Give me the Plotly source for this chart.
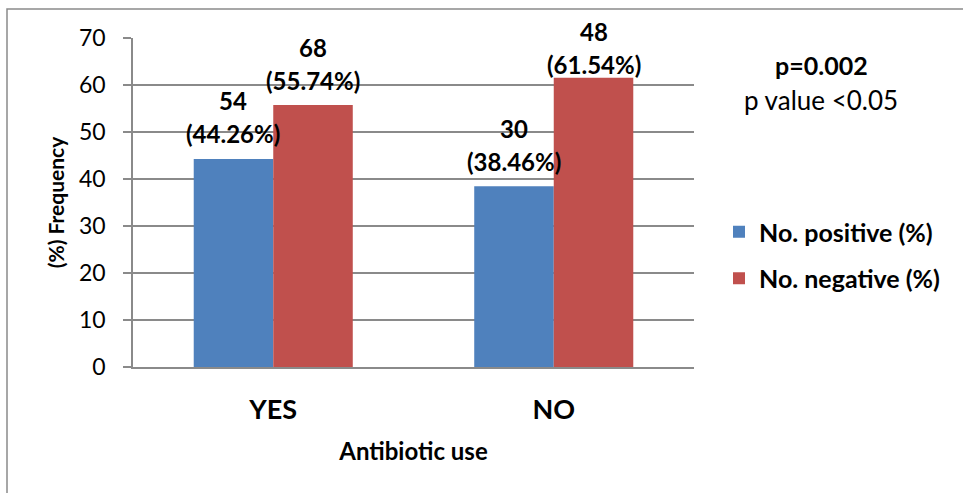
import plotly.graph_objects as go

categories = ["YES", "NO"]
series_names = ["No. positive (%)", "No. negative (%)"]
positive_pct = [44.26, 38.46]
negative_pct = [55.74, 61.54]
positive_n = [54, 30]
negative_n = [68, 48]
y_ticks = [0, 10, 20, 30, 40, 50, 60, 70]

BLUE = "#4F81BD"
RED = "#C0504D"
GRID = "#8A8A8A"
FONT = "Lato"

W, H = 963, 493
ML, MR, MT, MB = 133, 269, 38, 126
BARGAP = 0.433
Y_MAX = 70

fig = go.Figure()
fig.add_trace(go.Bar(x=categories, y=positive_pct, name=series_names[0],
                     marker=dict(color=BLUE, line=dict(width=0)), legendgroup="a"))
fig.add_trace(go.Bar(x=categories, y=negative_pct, name=series_names[1],
                     marker=dict(color=RED, line=dict(width=0)), legendgroup="b"))

plot_w = W - ML - MR
plot_h = H - MT - MB
bar_px = plot_w / len(categories) * (1 - BARGAP) / 2

annotations = []
for vals, counts, sign in [(positive_pct, positive_n, -1), (negative_pct, negative_n, 1)]:
    for c, v, n in zip(categories, vals, counts):
        # keep the label block inside the chart area (Excel-like fitting)
        top_px = MT + plot_h * (1 - v / Y_MAX)
        shift1 = min(58, top_px - 32)
        shift2 = shift1 - 34
        annotations.append(dict(x=c, y=v, xref="x", yref="y", text=f"<b>({v:.2f}%)</b>",
                                showarrow=False, xshift=sign * bar_px / 2, yshift=shift2 + 1,
                                xanchor="center", yanchor="middle",
                                font=dict(family=FONT, size=24, color="#000000")))
        annotations.append(dict(x=c, y=v, xref="x", yref="y", text=f"<b>{n}</b>",
                                showarrow=False, xshift=sign * bar_px / 2, yshift=shift1,
                                xanchor="center", yanchor="middle",
                                font=dict(family=FONT, size=24, color="#000000")))

annotations.append(dict(x=(821 - ML) / plot_w, y=(H - MB - 65) / plot_h, xref="paper", yref="paper",
                        text="<b>p=0.002</b>", showarrow=False, xanchor="center", yanchor="middle",
                        font=dict(family=FONT, size=25, color="#000000")))
annotations.append(dict(x=(821 - ML) / plot_w, y=(H - MB - 100) / plot_h, xref="paper", yref="paper",
                        text="p value <0.05", showarrow=False, xanchor="center", yanchor="middle",
                        font=dict(family=FONT, size=26, color="#000000")))

fig.update_layout(
    width=W, height=H,
    margin=dict(l=ML, r=MR, t=MT, b=MB, pad=0),
    paper_bgcolor="white", plot_bgcolor="white",
    barmode="group", bargap=BARGAP, bargroupgap=0,
    font=dict(family=FONT, color="#000000"),
    annotations=annotations,
    legend=dict(x=(719 - ML) / plot_w, y=(H - MB - 209) / plot_h, xanchor="left", yanchor="top",
                font=dict(family=FONT, size=25, color="#000000", weight="bold"), tracegroupgap=11,
                bgcolor="rgba(0,0,0,0)"),
    showlegend=True,
    shapes=[dict(type="rect", xref="paper", yref="paper",
                 x0=(7 - ML) / plot_w, x1=(990 - ML) / plot_w,
                 y0=(H - MB - 520) / plot_h, y1=(H - MB - 9) / plot_h,
                 line=dict(color=GRID, width=1.5), layer="below")],
)

fig.update_xaxes(
    type="category", categoryorder="array", categoryarray=categories,
    range=[-0.5, 1.5],
    showline=True, linecolor=GRID, linewidth=1.5, ticks="",
    tickfont=dict(family=FONT, size=27, color="#000000", weight="bold"),
    ticklabelstandoff=18,
    title=dict(text="<b>Antibiotic use</b>", font=dict(family=FONT, size=24, color="#000000"), standoff=19),
    showgrid=False, zeroline=False,
)
fig.update_yaxes(
    range=[0, Y_MAX], tickvals=y_ticks, ticktext=[str(t) for t in y_ticks],
    showline=True, linecolor=GRID, linewidth=1.5,
    ticks="outside", ticklen=8, tickcolor=GRID, tickwidth=1.5,
    tickfont=dict(family=FONT, size=23, color="#000000"),
    ticklabelstandoff=13,
    showgrid=True, gridcolor=GRID, gridwidth=1.5, zeroline=False,
    title=dict(text="<b>(%) Frequency</b>", font=dict(family=FONT, size=21, color="#000000"), standoff=9),
)

fig.write_html("out.html", config={"displayModeBar": False},
               post_script="document.body.style.margin='0px';document.body.style.overflow='hidden';")
